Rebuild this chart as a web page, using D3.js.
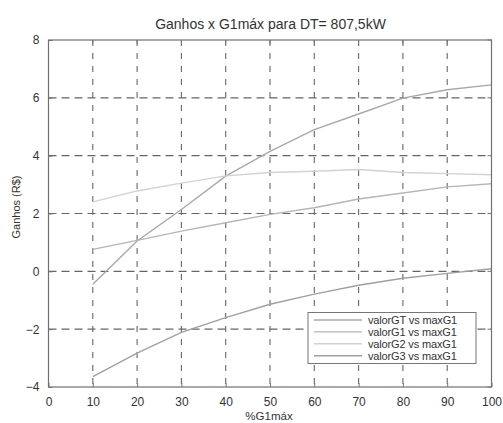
<!DOCTYPE html>
<html>
<head>
<meta charset="utf-8">
<script src="https://cdn.jsdelivr.net/npm/d3@7"></script>
<style>
  html, body { margin: 0; padding: 0; background: #fff; }
  svg { display: block; font-family: "Liberation Sans", Arial, sans-serif; }
</style>
</head>
<body>
<script>
// ---- data ----
const pctG1max = [10, 20, 30, 40, 50, 60, 70, 80, 90, 100];
const valorGT = [-0.45, 1.05, 2.14, 3.29, 4.15, 4.90, 5.44, 5.99, 6.28, 6.45];
const valorG1 = [0.76, 1.07, 1.39, 1.68, 1.97, 2.20, 2.50, 2.71, 2.92, 3.03];
const valorG2 = [2.40, 2.78, 3.05, 3.30, 3.42, 3.46, 3.52, 3.42, 3.38, 3.34];
const valorG3 = [-3.64, -2.83, -2.11, -1.60, -1.14, -0.79, -0.48, -0.24, -0.07, 0.09];
const xTicks = [0, 10, 20, 30, 40, 50, 60, 70, 80, 90, 100];
const yTicks = [-4, -2, 0, 2, 4, 6, 8];
const seriesNames = ["valorGT vs maxG1", "valorG1 vs maxG1", "valorG2 vs maxG1", "valorG3 vs maxG1"];
const seriesColors = ["#a8a8a8", "#b6b6b6", "#d2d2d2", "#a0a0a0"];
const titleText = "Ganhos x G1máx para DT= 807,5kW";
const xLabel = "%G1máx";
const yLabel = "Ganhos (R$)";

const W = 503, H = 423;
const m = { left: 48.5, right: 491.5, top: 40, bottom: 387 };

const svg = d3.select("body").append("svg").attr("width", W).attr("height", H);

const x = d3.scaleLinear().domain([0, 100]).range([m.left, m.right]);
const y = d3.scaleLinear().domain([-4, 8]).range([m.bottom, m.top]);

// grid
const grid = svg.append("g");
grid.selectAll("line.v").data(xTicks.slice(1, -1)).join("line")
  .attr("x1", d => x(d)).attr("x2", d => x(d))
  .attr("y1", m.top).attr("y2", m.bottom)
  .attr("stroke", "#666").attr("stroke-width", 1.1).attr("stroke-dasharray", "6,7");
grid.selectAll("line.h").data(yTicks.slice(1, -1)).join("line")
  .attr("x1", m.left).attr("x2", m.right)
  .attr("y1", d => y(d)).attr("y2", d => y(d))
  .attr("stroke", "#666").attr("stroke-width", 1.1).attr("stroke-dasharray", "8,5");

// series
const series = [valorGT, valorG1, valorG2, valorG3];
const line = d3.line().x((d, i) => x(pctG1max[i])).y(d => y(d));
series.forEach((s, k) => {
  svg.append("path").datum(s).attr("d", line)
    .attr("fill", "none").attr("stroke", seriesColors[k]).attr("stroke-width", 1.4);
});

// axes
const xAxis = d3.axisBottom(x).tickValues(xTicks).tickSize(-4).tickPadding(10).tickFormat(d3.format("d"));
const gx = svg.append("g").attr("transform", `translate(0,${m.bottom})`).call(xAxis);
const yAxis = d3.axisLeft(y).tickValues(yTicks).tickSize(-4).tickPadding(9).tickFormat(d3.format("d"));
const gy = svg.append("g").attr("transform", `translate(${m.left},0)`).call(yAxis);
[gx, gy].forEach(g => {
  g.select(".domain").remove();
  g.selectAll(".tick line").attr("stroke", "#777");
  g.selectAll(".tick text").attr("fill", "#333").style("font-size", "12px")
    .style("font-family", "'Liberation Sans', Arial, sans-serif");
});

// top / right ticks
svg.append("g").selectAll("line").data(xTicks).join("line")
  .attr("x1", d => x(d)).attr("x2", d => x(d)).attr("y1", m.top).attr("y2", m.top + 4)
  .attr("stroke", "#777");
svg.append("g").selectAll("line").data(yTicks).join("line")
  .attr("x1", m.right).attr("x2", m.right - 4).attr("y1", d => y(d)).attr("y2", d => y(d))
  .attr("stroke", "#777");

// frame
svg.append("rect").attr("x", m.left).attr("y", m.top)
  .attr("width", m.right - m.left).attr("height", m.bottom - m.top)
  .attr("fill", "none").attr("stroke", "#707070").attr("stroke-width", 1.2);

// title & labels
svg.append("text").attr("x", 270.5).attr("y", 29).attr("text-anchor", "middle")
  .style("font-size", "14px").attr("fill", "#333").text(titleText);
svg.append("text").attr("x", 269).attr("y", 420).attr("text-anchor", "middle")
  .style("font-size", "11.5px").attr("fill", "#333").text(xLabel);
svg.append("text").attr("transform", "translate(20,207) rotate(-90)").attr("text-anchor", "middle")
  .style("font-size", "11px").attr("fill", "#333").text(yLabel);

// legend
const lg = svg.append("g");
lg.append("rect").attr("x", 308).attr("y", 312.5).attr("width", 168).attr("height", 51)
  .attr("fill", "#fff").attr("stroke", "#777").attr("stroke-width", 1);
seriesNames.forEach((name, k) => {
  const yy = 320 + k * 11.9;
  lg.append("line").attr("x1", 314).attr("x2", 362).attr("y1", yy).attr("y2", yy)
    .attr("stroke", seriesColors[k]).attr("stroke-width", 1.4);
  lg.append("text").attr("x", 368).attr("y", yy + 3.8)
    .style("font-size", "11px").style("letter-spacing", "-0.15px").attr("fill", "#333").text(name);
});
</script>
</body>
</html>
